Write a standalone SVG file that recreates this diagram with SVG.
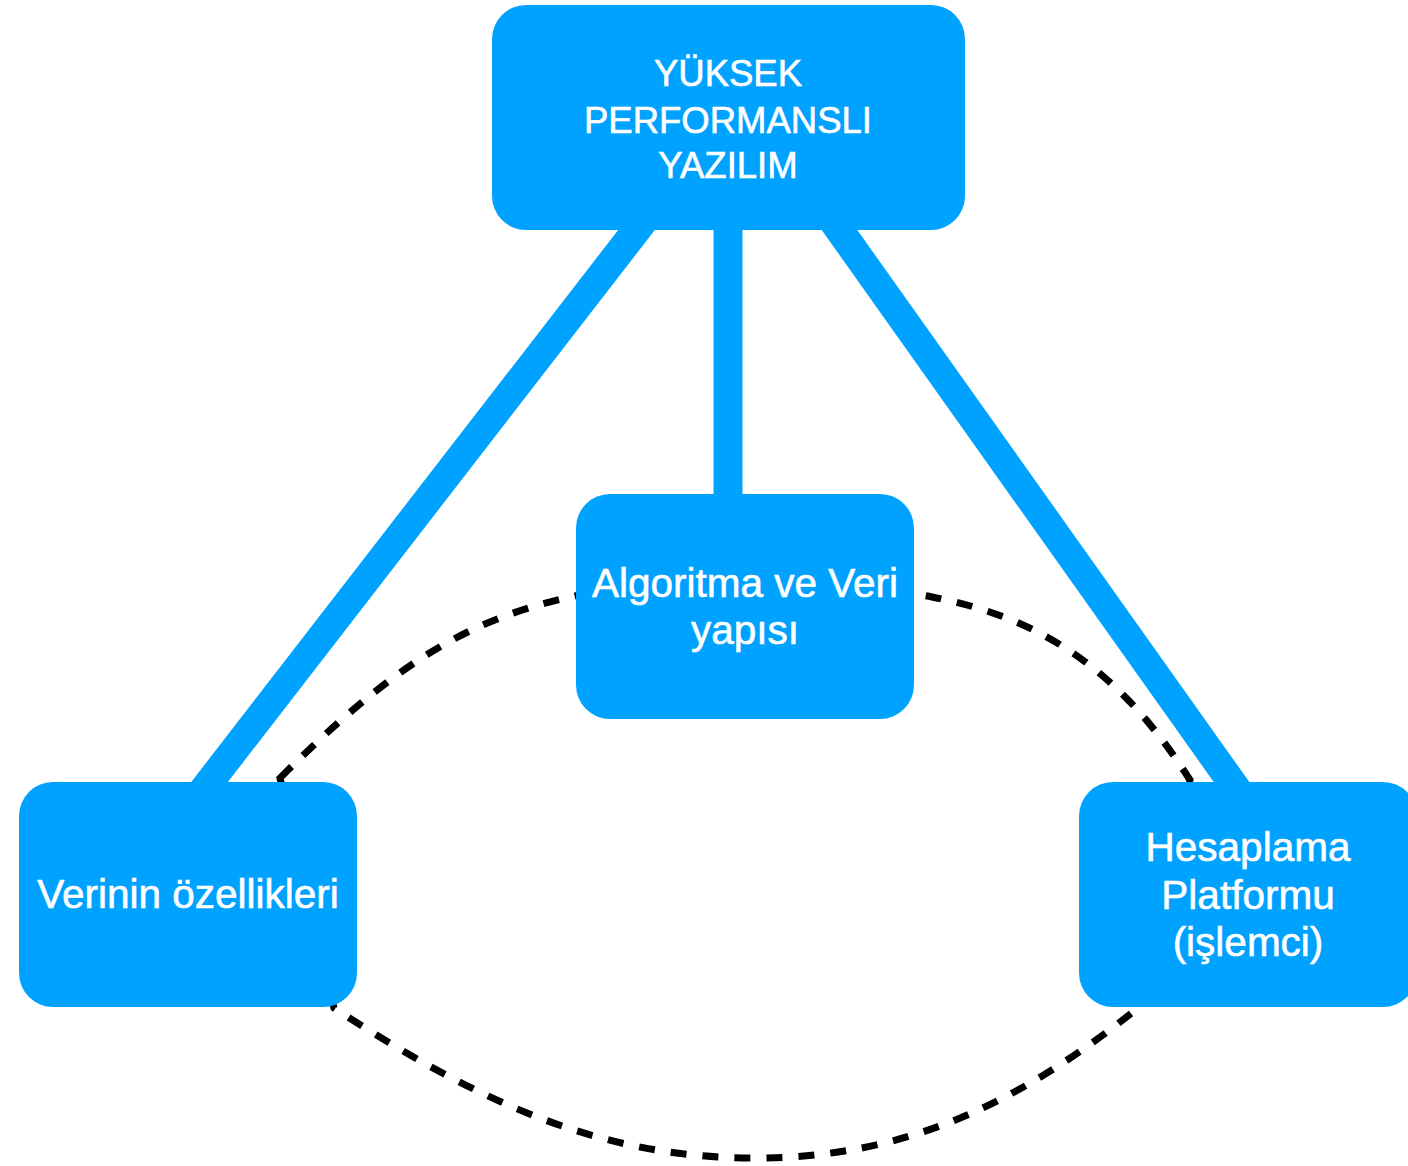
<svg xmlns="http://www.w3.org/2000/svg" width="1408" height="1166" viewBox="0 0 1408 1166">
<style>
.node{fill:#00A2FF;}
.lbl{fill:#FFFFFF;stroke:#FFFFFF;stroke-width:0.6;font-family:"Liberation Sans",Arial,Helvetica,sans-serif;text-anchor:middle;}
.big{font-size:40.5px;}
.top{font-size:36.5px;}
.link{stroke:#00A2FF;stroke-width:29;fill:none;}
.dash{stroke:#000000;stroke-width:7;fill:none;stroke-dasharray:16 16;}
</style>
<rect width="1408" height="1166" fill="#FFFFFF"/>
<g id="connectors">
<line class="link" x1="659.7" y1="200" x2="195.6" y2="800"/>
<line class="link" x1="728" y1="200" x2="728" y2="520"/>
<line class="link" x1="818.2" y1="200" x2="1244.3" y2="800"/>
<path class="dash" d="M 280 778 C 390 668 465 619 575 596 C 650 580 850 580 932 597 C 1042 618 1120 670 1190 780 L 1138 1008 C 1018 1104 905 1158 755 1158 C 605 1158 484 1106 334 1008 Z"/>
</g>
<g id="node-top">
<rect class="node" x="492" y="5" width="473" height="225" rx="34" ry="34"/>
<text class="lbl top" x="728" y="86">YÜKSEK</text>
<text class="lbl top" x="728" y="132.5">PERFORMANSLI</text>
<text class="lbl top" x="728" y="178">YAZILIM</text>
</g>
<g id="node-algoritma">
<rect class="node" x="576" y="494" width="338" height="225" rx="34" ry="34"/>
<text class="lbl big" x="745" y="597">Algoritma ve Veri</text>
<text class="lbl big" x="745" y="643.5">yapısı</text>
</g>
<g id="node-verinin">
<rect class="node" x="19" y="782" width="338" height="225" rx="34" ry="34"/>
<text class="lbl big" x="188" y="908">Verinin özellikleri</text>
</g>
<g id="node-hesaplama">
<rect class="node" x="1079" y="782" width="338" height="225" rx="34" ry="34"/>
<text class="lbl big" x="1248" y="861">Hesaplama</text>
<text class="lbl big" x="1248" y="908.5">Platformu</text>
<text class="lbl big" x="1248" y="955.5">(işlemci)</text>
</g>
</svg>
